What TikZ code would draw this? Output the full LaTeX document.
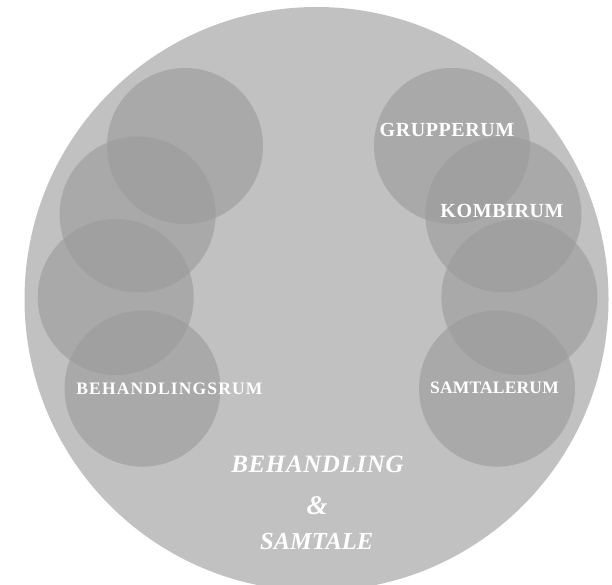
\documentclass[tikz,border=0pt]{standalone}
\usepackage{fontspec}
\setmainfont{Liberation Serif}
\newfontfamily\spacedA[LetterSpace=3]{Liberation Serif}
\newfontfamily\spacedB[LetterSpace=6.5]{Liberation Serif}
\newfontfamily\spacedC[LetterSpace=1]{Liberation Serif}
\newfontfamily\spacedD[LetterSpace=2.5]{Liberation Serif}
\definecolor{bigc}{RGB}{193,193,193}
\definecolor{smallc}{RGB}{155,155,155}
\begin{document}
\begin{tikzpicture}[x=1pt,y=-1pt,
  room/.style={circle,fill=smallc,fill opacity=0.61,draw=none,minimum size=156pt,inner sep=0pt},
  lbl/.style={text=white,font=\spacedA\bfseries\fontsize{20}{20}\selectfont,inner sep=0pt},
  lblwide/.style={text=white,font=\spacedB\bfseries\fontsize{17.5}{17.5}\selectfont,inner sep=0pt},
  lblsm/.style={text=white,font=\spacedC\bfseries\fontsize{17.5}{17.5}\selectfont,inner sep=0pt},
  big/.style={text=white,font=\spacedD\bfseries\itshape\fontsize{25}{25}\selectfont,inner sep=0pt},
  bigb/.style={text=white,font=\bfseries\itshape\fontsize{24.5}{24.5}\selectfont,inner sep=0pt},
  amp/.style={text=white,font=\bfseries\itshape\fontsize{27}{27}\selectfont,inner sep=0pt}]
\useasboundingbox (0,0) rectangle (612,585);
\clip (0,0) rectangle (612,585);
\node[circle,fill=bigc,minimum size=584pt,inner sep=0pt] (main) at (316.5,299) {};
\node[room] (l1) at (185,146) {};
\node[room] (l2) at (137.6,214.5) {};
\node[room] (l3) at (115.7,297) {};
\node[room] (l4) at (142.5,388.6) {};
\node[room] (r1) at (452,146) {};
\node[room] (r2) at (503.4,214.5) {};
\node[room] (r3) at (519.4,297) {};
\node[room] (r4) at (497,388.6) {};
\node[lbl] (tg) at (447,130) {GRUPPERUM};
\node[lbl] (tk) at (502,210.5) {KOMBIRUM};
\node[lblwide] (tb) at (169.4,388.3) {BEHANDLINGSRUM};
\node[lblsm] (ts) at (494.5,388) {SAMTALERUM};
\node[big] (m1) at (317.5,464) {BEHANDLING};
\node[amp] (m2) at (317,506) {\&};
\node[bigb] (m3) at (316.7,541.7) {SAMTALE};
\end{tikzpicture}
\end{document}
